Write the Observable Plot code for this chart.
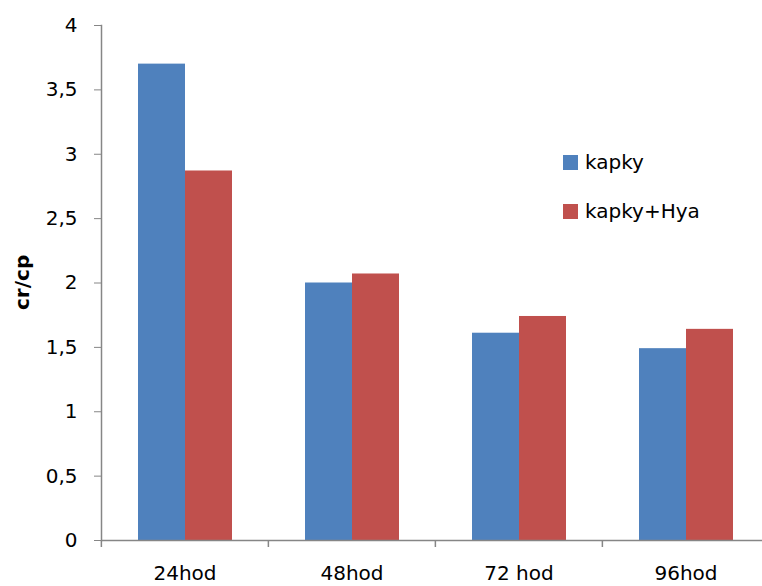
<!DOCTYPE html>
<html><head><meta charset="utf-8">
<script src="https://cdn.jsdelivr.net/npm/d3@7"></script>
<script src="https://cdn.jsdelivr.net/npm/@observablehq/plot@0.6"></script>
<style>
body{margin:0;background:#fff;}
#wrap{position:relative;width:762px;height:586px;overflow:hidden;font-family:"DejaVu Sans",sans-serif;}
.item{position:absolute;left:563px;display:flex;align-items:center;font-size:20px;color:#000;white-space:nowrap;}
.sw{width:15px;height:15px;margin-right:7px;}
</style></head><body><div id="wrap"></div>
<script>
const categories = ["24hod", "48hod", "72 hod", "96hod"];
const seriesNames = ["kapky", "kapky+Hya"];
const kapky = [3.70, 2.00, 1.61, 1.49];
const kapkyHya = [2.87, 2.07, 1.74, 1.64];
const yTicks = [0, 0.5, 1, 1.5, 2, 2.5, 3, 3.5, 4];
const colors = ["#4F81BD", "#C0504D"];
const yLabel = "cr/cp";

const data = categories.flatMap((c, i) => [
  {cat: c, series: seriesNames[0], value: kapky[i]},
  {cat: c, series: seriesNames[1], value: kapkyHya[i]}
]);
const fmt = d => String(d).replace(".", ",");
const W = 762, H = 586;
const facetW = 167.25;
const chart = Plot.plot({
  width: W, height: H, marginLeft: 100, marginRight: 0, marginTop: 25, marginBottom: 46,
  style: {fontFamily: "DejaVu Sans, sans-serif", fontSize: "20px", color: "#000", background: "#fff"},
  fx: {domain: categories, range: [100.5, 100.5 + 4 * facetW], paddingInner: 0, paddingOuter: 0, label: null},
  x: {domain: seriesNames, paddingInner: 0, paddingOuter: 0.757, axis: null},
  y: {domain: [0, 4]},
  color: {domain: seriesNames, range: colors},
  marks: [
    Plot.barY(data, {fx: "cat", x: "series", y: "value", fill: "series", inset: 0}),
    Plot.ruleY([0], {stroke: "#868686", strokeWidth: 1.5}),
    Plot.axisY({ticks: yTicks, tickSize: 7, tickPadding: 17, tickFormat: fmt, stroke: "#868686", label: null, fontSize: 20}),
    Plot.frame({anchor: "left", stroke: "#868686", strokeWidth: 1.5, facetAnchor: "left"}),
    Plot.axisFx({anchor: "bottom", tickSize: 0, tickPadding: 25, label: null, fontSize: 20}),
    Plot.axisFx({anchor: "bottom", tickSize: 7, text: null, stroke: "#868686", strokeWidth: 1.5, dx: -facetW / 2, label: null}),
    Plot.text([yLabel], {frameAnchor: "left", facet: "super", rotate: -90, dx: -79, dy: 27, fontWeight: "bold", fontSize: 20})
  ]
});
const wrap = document.getElementById("wrap");
wrap.appendChild(chart);
const legendTops = [150, 199];
seriesNames.forEach((s, i) => {
  const it = document.createElement("div");
  it.className = "item";
  it.style.top = legendTops[i] + "px";
  it.innerHTML = `<div class="sw" style="background:${colors[i]}"></div><span>${s}</span>`;
  wrap.appendChild(it);
});
</script></body></html>
